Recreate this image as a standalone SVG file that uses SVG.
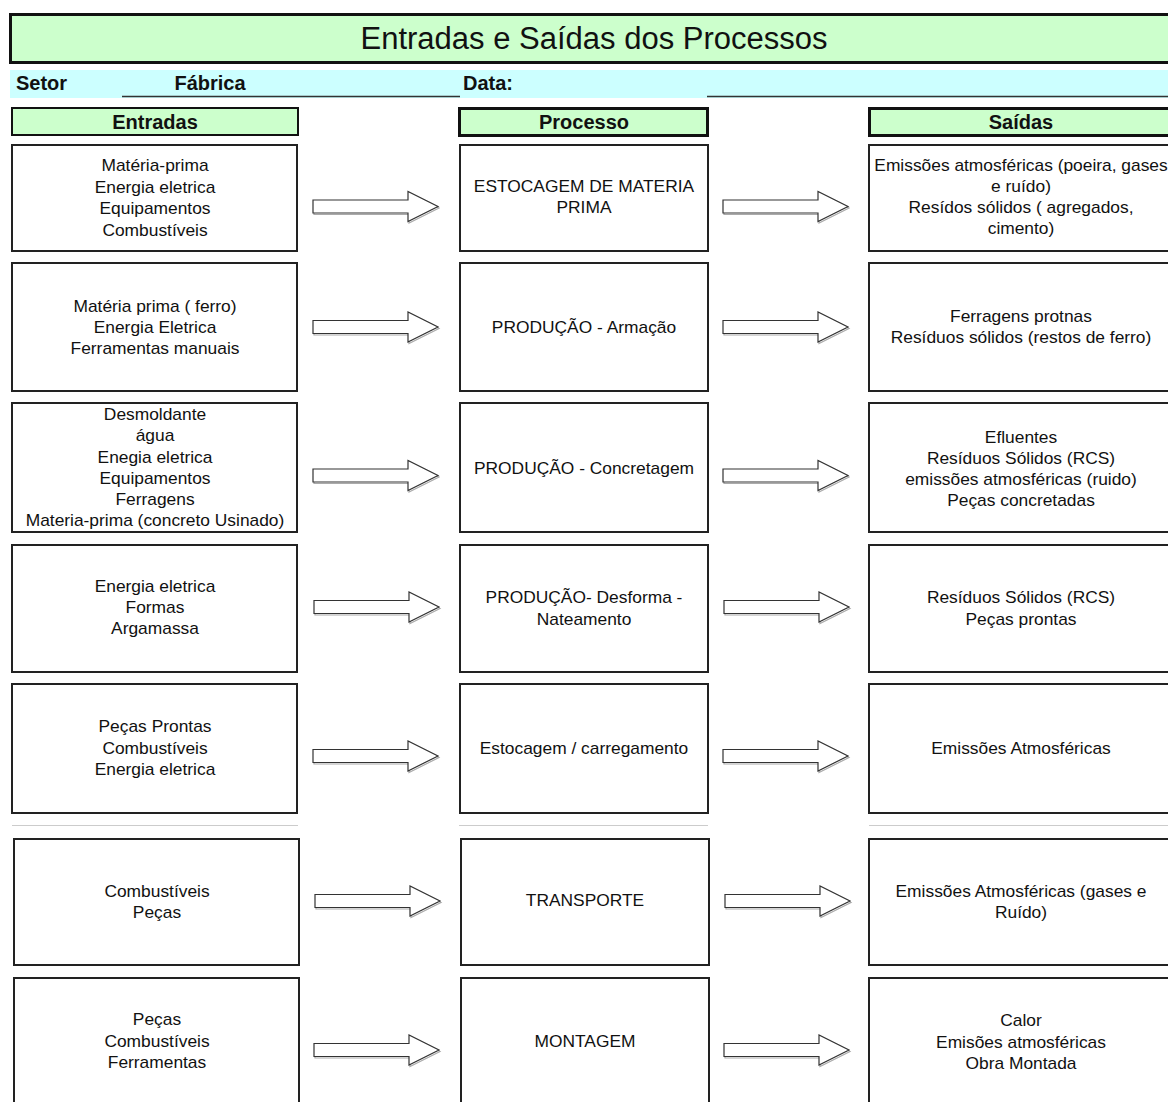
<svg xmlns="http://www.w3.org/2000/svg" xmlns:xlink="http://www.w3.org/1999/xlink" width="1168" height="1102" viewBox="0 0 1168 1102">
  <style>
    .box { fill: #ffffff; stroke: #222222; stroke-width: 2; }
    .hdr { fill: #ccffcc; stroke: #111111; stroke-width: 2; }
    .hdr-thick { fill: #ccffcc; stroke: #111111; stroke-width: 3; }
    .sep { stroke: #cccccc; stroke-width: 1; }
    .rule { stroke: #333333; stroke-width: 1.5; }
    .title { font-family: "Liberation Sans", Arial, sans-serif; font-size: 31px; fill: #111111; text-anchor: middle; }
    .bold { font-family: "Liberation Sans", Arial, sans-serif; font-size: 20px; font-weight: bold; fill: #111111; }
    .mid { text-anchor: middle; }
    .t { font-family: "Liberation Sans", Arial, sans-serif; font-size: 15.8px; fill: #111111; text-anchor: middle; }
    .arrow { fill: #ffffff; stroke: #333333; stroke-width: 1.2; stroke-linejoin: miter; }
    .arrow-shadow { fill: none; stroke: #aaaaaa; stroke-width: 1.2; }
  </style>
  <defs>
    <!-- block arrow, origin at the left end of the shaft centre line -->
    <path id="blockArrow" d="M0,-6.5 H95 V-15 L125,0 L95,15 V6.5 H0 Z"/>
  </defs>

  <rect width="1168" height="1102" fill="#ffffff"/>

  <!-- title band -->
  <g id="title">
    <rect x="10.5" y="14.5" width="1170" height="48" fill="#ccffcc" stroke="#111111" stroke-width="3"/>
    <text class="title" x="594" y="49">Entradas e Saídas dos Processos</text>
  </g>

  <!-- sector / date line -->
  <g id="sector-row">
    <rect x="10" y="70" width="1158" height="28" fill="#ccffff"/>
    <text class="bold" x="16" y="90">Setor</text>
    <text class="bold mid" x="210" y="90">Fábrica</text>
    <line class="rule" x1="122" y1="96.5" x2="460" y2="96.5"/>
    <text class="bold" x="463" y="90">Data:</text>
    <line class="rule" x1="707" y1="96.5" x2="1168" y2="96.5"/>
  </g>

  <!-- column headers -->
  <g id="header-entradas">
    <rect class="hdr" x="12" y="108" width="286" height="27"/>
    <text class="bold mid" x="155" y="129">Entradas</text>
  </g>
  <g id="header-processo">
    <rect class="hdr-thick" x="459.5" y="108.5" width="248" height="27"/>
    <text class="bold mid" x="584" y="129">Processo</text>
  </g>
  <g id="header-saidas">
    <rect class="hdr-thick" x="869.5" y="108.5" width="310" height="27"/>
    <text class="bold mid" x="1021" y="129">Saídas</text>
  </g>

  <!-- row 1 -->
  <g id="in-1">
    <rect class="box" x="12" y="145" width="285" height="106"/>
    <g class="t" transform="translate(155 0) scale(1.1 1)">
      <text x="0" y="171">Matéria-prima</text>
      <text x="0" y="193">Energia eletrica</text>
      <text x="0" y="214">Equipamentos</text>
      <text x="0" y="236">Combustíveis</text>
    </g>
  </g>
  <g id="proc-1">
    <rect class="box" x="460" y="145" width="248" height="106"/>
    <g class="t" transform="translate(584 0) scale(1.1 1)">
      <text x="0" y="192">ESTOCAGEM DE MATERIA</text>
      <text x="0" y="213.5">PRIMA</text>
    </g>
  </g>
  <g id="out-1">
    <rect class="box" x="869" y="145" width="310" height="106"/>
    <g class="t" transform="translate(1021 0) scale(1.1 1)">
      <text x="0" y="171">Emissões atmosféricas (poeira, gases</text>
      <text x="0" y="192">e ruído)</text>
      <text x="0" y="213">Resídos sólidos ( agregados,</text>
      <text x="0" y="234">cimento)</text>
    </g>
  </g>

  <!-- row 2 -->
  <g id="in-2">
    <rect class="box" x="12" y="263" width="285" height="128"/>
    <g class="t" transform="translate(155 0) scale(1.1 1)">
      <text x="0" y="312">Matéria prima ( ferro)</text>
      <text x="0" y="333">Energia Eletrica</text>
      <text x="0" y="354">Ferramentas manuais</text>
    </g>
  </g>
  <g id="proc-2">
    <rect class="box" x="460" y="263" width="248" height="128"/>
    <g class="t" transform="translate(584 0) scale(1.1 1)">
      <text x="0" y="333">PRODUÇÃO - Armação</text>
    </g>
  </g>
  <g id="out-2">
    <rect class="box" x="869" y="263" width="310" height="128"/>
    <g class="t" transform="translate(1021 0) scale(1.1 1)">
      <text x="0" y="322">Ferragens protnas</text>
      <text x="0" y="343">Resíduos sólidos (restos de ferro)</text>
    </g>
  </g>

  <!-- row 3 -->
  <g id="in-3">
    <rect class="box" x="12" y="403" width="285" height="129"/>
    <g class="t" transform="translate(155 0) scale(1.1 1)">
      <text x="0" y="420">Desmoldante</text>
      <text x="0" y="441">água</text>
      <text x="0" y="463">Enegia eletrica</text>
      <text x="0" y="484">Equipamentos</text>
      <text x="0" y="505">Ferragens</text>
      <text x="0" y="526">Materia-prima (concreto Usinado)</text>
    </g>
  </g>
  <g id="proc-3">
    <rect class="box" x="460" y="403" width="248" height="129"/>
    <g class="t" transform="translate(584 0) scale(1.1 1)">
      <text x="0" y="474">PRODUÇÃO - Concretagem</text>
    </g>
  </g>
  <g id="out-3">
    <rect class="box" x="869" y="403" width="310" height="129"/>
    <g class="t" transform="translate(1021 0) scale(1.1 1)">
      <text x="0" y="443">Efluentes</text>
      <text x="0" y="464">Resíduos Sólidos (RCS)</text>
      <text x="0" y="485">emissões atmosféricas (ruido)</text>
      <text x="0" y="506">Peças concretadas</text>
    </g>
  </g>

  <!-- row 4 -->
  <g id="in-4">
    <rect class="box" x="12" y="545" width="285" height="127"/>
    <g class="t" transform="translate(155 0) scale(1.1 1)">
      <text x="0" y="592">Energia eletrica</text>
      <text x="0" y="613">Formas</text>
      <text x="0" y="634">Argamassa</text>
    </g>
  </g>
  <g id="proc-4">
    <rect class="box" x="460" y="545" width="248" height="127"/>
    <g class="t" transform="translate(584 0) scale(1.1 1)">
      <text x="0" y="603">PRODUÇÃO- Desforma -</text>
      <text x="0" y="625">Nateamento</text>
    </g>
  </g>
  <g id="out-4">
    <rect class="box" x="869" y="545" width="310" height="127"/>
    <g class="t" transform="translate(1021 0) scale(1.1 1)">
      <text x="0" y="603">Resíduos Sólidos (RCS)</text>
      <text x="0" y="625">Peças prontas</text>
    </g>
  </g>

  <!-- row 5 -->
  <g id="in-5">
    <rect class="box" x="12" y="684" width="285" height="129"/>
    <g class="t" transform="translate(155 0) scale(1.1 1)">
      <text x="0" y="732">Peças Prontas</text>
      <text x="0" y="754">Combustíveis</text>
      <text x="0" y="775">Energia eletrica</text>
    </g>
  </g>
  <g id="proc-5">
    <rect class="box" x="460" y="684" width="248" height="129"/>
    <g class="t" transform="translate(584 0) scale(1.1 1)">
      <text x="0" y="754">Estocagem / carregamento</text>
    </g>
  </g>
  <g id="out-5">
    <rect class="box" x="869" y="684" width="310" height="129"/>
    <g class="t" transform="translate(1021 0) scale(1.1 1)">
      <text x="0" y="754">Emissões Atmosféricas</text>
    </g>
  </g>

  <!-- light separators between the two blocks -->
  <g id="separators">
    <line class="sep" x1="12" y1="825.5" x2="298" y2="825.5"/>
    <line class="sep" x1="459" y1="825.5" x2="708" y2="825.5"/>
    <line class="sep" x1="869" y1="825.5" x2="1168" y2="825.5"/>
  </g>

  <!-- row 6 -->
  <g id="in-6">
    <rect class="box" x="14" y="839" width="285" height="126"/>
    <g class="t" transform="translate(157 0) scale(1.1 1)">
      <text x="0" y="897">Combustíveis</text>
      <text x="0" y="918">Peças</text>
    </g>
  </g>
  <g id="proc-6">
    <rect class="box" x="461" y="839" width="248" height="126"/>
    <g class="t" transform="translate(585 0) scale(1.1 1)">
      <text x="0" y="906">TRANSPORTE</text>
    </g>
  </g>
  <g id="out-6">
    <rect class="box" x="869" y="839" width="310" height="126"/>
    <g class="t" transform="translate(1021 0) scale(1.1 1)">
      <text x="0" y="897">Emissões Atmosféricas (gases e</text>
      <text x="0" y="918">Ruído)</text>
    </g>
  </g>

  <!-- row 7 -->
  <g id="in-7">
    <rect class="box" x="14" y="978" width="285" height="140"/>
    <g class="t" transform="translate(157 0) scale(1.1 1)">
      <text x="0" y="1025">Peças</text>
      <text x="0" y="1047">Combustíveis</text>
      <text x="0" y="1068">Ferramentas</text>
    </g>
  </g>
  <g id="proc-7">
    <rect class="box" x="461" y="978" width="248" height="140"/>
    <g class="t" transform="translate(585 0) scale(1.1 1)">
      <text x="0" y="1047">MONTAGEM</text>
    </g>
  </g>
  <g id="out-7">
    <rect class="box" x="869" y="978" width="310" height="140"/>
    <g class="t" transform="translate(1021 0) scale(1.1 1)">
      <text x="0" y="1026">Calor</text>
      <text x="0" y="1048">Emisões atmosféricas</text>
      <text x="0" y="1069">Obra Montada</text>
    </g>
  </g>

  <!-- connectors: block arrows input -> process -> output -->
  <g id="connectors">
    <g transform="translate(1 1.5)">
      <use class="arrow-shadow" xlink:href="#blockArrow" x="313" y="206.5"/>
      <use class="arrow-shadow" xlink:href="#blockArrow" x="723" y="206.5"/>
      <use class="arrow-shadow" xlink:href="#blockArrow" x="313" y="327"/>
      <use class="arrow-shadow" xlink:href="#blockArrow" x="723" y="327"/>
      <use class="arrow-shadow" xlink:href="#blockArrow" x="313" y="475.5"/>
      <use class="arrow-shadow" xlink:href="#blockArrow" x="723" y="475.5"/>
      <use class="arrow-shadow" xlink:href="#blockArrow" x="314" y="607"/>
      <use class="arrow-shadow" xlink:href="#blockArrow" x="724" y="607"/>
      <use class="arrow-shadow" xlink:href="#blockArrow" x="313" y="756"/>
      <use class="arrow-shadow" xlink:href="#blockArrow" x="723" y="756"/>
      <use class="arrow-shadow" xlink:href="#blockArrow" x="315" y="901"/>
      <use class="arrow-shadow" xlink:href="#blockArrow" x="725" y="901"/>
      <use class="arrow-shadow" xlink:href="#blockArrow" x="314" y="1050"/>
      <use class="arrow-shadow" xlink:href="#blockArrow" x="724" y="1050"/>
    </g>
    <use class="arrow" xlink:href="#blockArrow" x="313" y="206.5"/>
    <use class="arrow" xlink:href="#blockArrow" x="723" y="206.5"/>
    <use class="arrow" xlink:href="#blockArrow" x="313" y="327"/>
    <use class="arrow" xlink:href="#blockArrow" x="723" y="327"/>
    <use class="arrow" xlink:href="#blockArrow" x="313" y="475.5"/>
    <use class="arrow" xlink:href="#blockArrow" x="723" y="475.5"/>
    <use class="arrow" xlink:href="#blockArrow" x="314" y="607"/>
    <use class="arrow" xlink:href="#blockArrow" x="724" y="607"/>
    <use class="arrow" xlink:href="#blockArrow" x="313" y="756"/>
    <use class="arrow" xlink:href="#blockArrow" x="723" y="756"/>
    <use class="arrow" xlink:href="#blockArrow" x="315" y="901"/>
    <use class="arrow" xlink:href="#blockArrow" x="725" y="901"/>
    <use class="arrow" xlink:href="#blockArrow" x="314" y="1050"/>
    <use class="arrow" xlink:href="#blockArrow" x="724" y="1050"/>
  </g>
</svg>
